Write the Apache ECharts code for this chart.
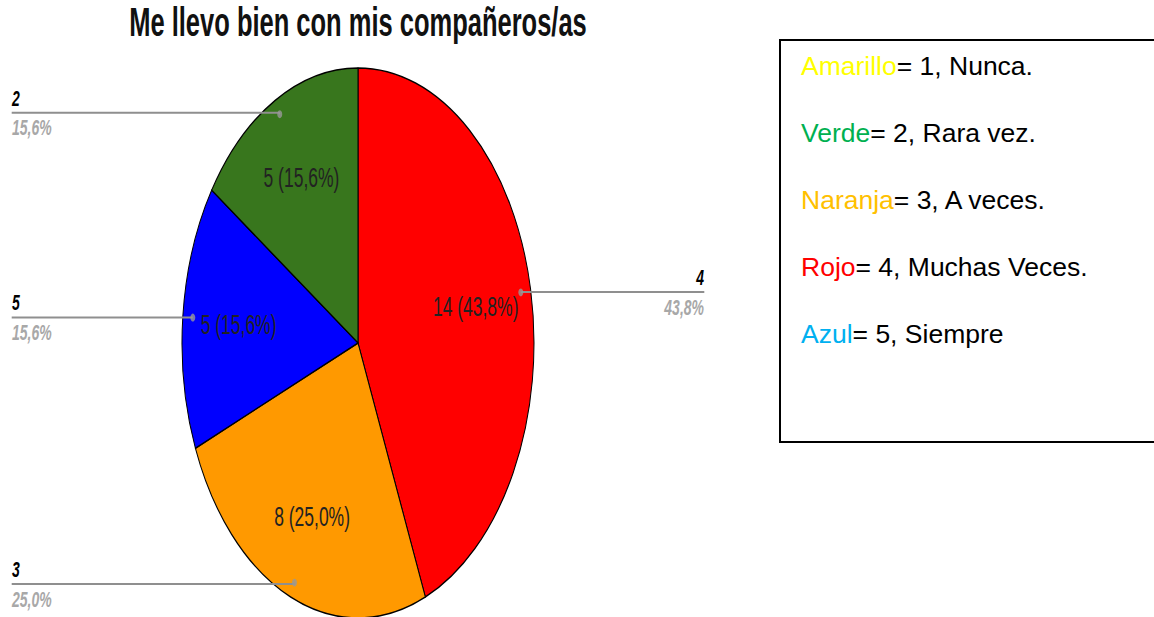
<!DOCTYPE html>
<html>
<head>
<meta charset="utf-8">
<title>Me llevo bien con mis compañeros/as</title>
<script src="https://cdn.jsdelivr.net/npm/echarts@6/dist/echarts.min.js"></script>
<style>
  html, body { margin: 0; padding: 0; background: #fff; }
  .wrap { position: relative; width: 1154px; height: 617px; overflow: hidden; }
  #leyenda { position: absolute; left: 0; top: 0; width: 1154px; height: 617px; }
  /* la torta del original está estirada en vertical */
  #torta { position: absolute; left: 0; top: 0; width: 716px; height: 395px;
           transform: scaleY(1.5625); transform-origin: 0 0; }
</style>
</head>
<body>
<div class="wrap">
  <div id="leyenda"></div>
  <div id="torta"></div>
</div>
<script>
const titulo = 'Me llevo bien con mis compañeros/as'
// categorías en el orden de la torta (desde arriba, en sentido horario)
const categorias = ['4', '3', '5', '2']
const valores = [14, 8, 5, 5]
const colores = ['#ff0000', '#ff9900', '#0000ff', '#38761d']

// cuadro de la derecha
const leyendaNombres = ['Amarillo', 'Verde', 'Naranja', 'Rojo', 'Azul']
const leyendaTextos = ['= 1, Nunca.', '= 2, Rara vez.', '= 3, A veces.', '= 4, Muchas Veces.', '= 5, Siempre']
const leyendaColores = ['#ffff00', '#00b050', '#ffc000', '#ff0000', '#00b0f0']

const fuente = 'Liberation Sans, Arial, sans-serif'
const total = valores.reduce((a, b) => a + b, 0)
const pct = p => p.toFixed(1).replace('.', ',') + '%'

const centro = [358, 219.5]
const radio = 176
const radioPunto = 166

const datos = categorias.map((c, i) => ({ name: c, value: valores[i], itemStyle: { color: colores[i] } }))
const transparente = categorias.map((c, i) => ({ name: c, value: valores[i] }))

// puntos grises al inicio de cada línea (mitad de cada porción)
let acumulado = 0
const puntos = valores.map(v => {
  const medio = acumulado + v / 2
  acumulado += v
  return [radioPunto, medio]
})

let torta = echarts.init(document.getElementById('torta'), null, { renderer: 'svg' })
torta.setOption({
  animation: false,
  title: {
    text: titulo,
    left: 'center',
    top: 1,
    padding: 0,
    textStyle: { fontFamily: fuente, fontSize: 25.5, fontWeight: 'bold', color: '#111' }
  },
  polar: { center: centro, radius: radio },
  angleAxis: { type: 'value', min: 0, max: total, startAngle: 90, show: false },
  radiusAxis: { type: 'value', min: 0, max: radio, show: false },
  series: [
    {
      type: 'pie',
      center: centro,
      radius: radio,
      startAngle: 90,
      percentPrecision: 1,
      silent: true,
      label: { show: false },
      labelLine: { show: false },
      itemStyle: { borderColor: '#000', borderWidth: 1 },
      data: datos
    },
    {
      // etiquetas dentro de las porciones
      type: 'pie',
      z: 3,
      center: centro,
      radius: [115, 119],
      startAngle: 90,
      percentPrecision: 1,
      silent: true,
      itemStyle: { color: 'rgba(0,0,0,0)' },
      label: {
        position: 'inside',
        formatter: p => p.value + ' (' + pct(p.percent) + ')',
        fontFamily: fuente,
        fontSize: 17.5,
        color: '#222'
      },
      data: transparente
    },
    {
      // etiquetas de afuera con línea horizontal
      type: 'pie',
      z: 4,
      center: centro,
      radius: [radioPunto - 2, radioPunto],
      startAngle: 90,
      percentPrecision: 1,
      silent: true,
      avoidLabelOverlap: true,
      itemStyle: { color: 'rgba(0,0,0,0)' },
      label: {
        position: 'outside',
        alignTo: 'edge',
        edgeDistance: 12,
        distanceToLabelLine: -40,
        width: 50,
        formatter: p => '{a|' + p.name + '}\n{b|' + pct(p.percent) + '}',
        rich: {
          a: { fontFamily: fuente, fontSize: 14, fontWeight: 'bold', fontStyle: 'italic', color: '#000', lineHeight: 19 },
          b: { fontFamily: fuente, fontSize: 14, fontWeight: 'bold', fontStyle: 'italic', color: '#a8a8a8', lineHeight: 19 }
        }
      },
      labelLine: {
        length: 1,
        length2: 10,
        lineStyle: { color: '#8f8f8f', width: 1.3 }
      },
      data: transparente
    },
    {
      type: 'scatter',
      z: 5,
      coordinateSystem: 'polar',
      symbolSize: 5,
      silent: true,
      itemStyle: { color: '#999' },
      data: puntos
    }
  ]
})

let leyenda = echarts.init(document.getElementById('leyenda'), null, { renderer: 'svg' })
leyenda.setOption({
  animation: false,
  title: leyendaNombres.map((n, i) => ({
    text: '{c|' + n + '}{t|' + leyendaTextos[i] + '}',
    left: 801,
    top: 52 + i * 67,
    padding: 0,
    textStyle: {
      fontWeight: 'normal',
      rich: {
        c: { fontFamily: fuente, fontSize: 26.5, fontWeight: 'normal', color: leyendaColores[i] },
        t: { fontFamily: fuente, fontSize: 26.5, fontWeight: 'normal', color: '#000' }
      }
    }
  })),
  graphic: [{
    type: 'rect',
    shape: { x: 780, y: 40, width: 420, height: 402 },
    style: { fill: '#fff', stroke: '#000', lineWidth: 2 },
    z: -1
  }]
})
</script>
</body>
</html>
